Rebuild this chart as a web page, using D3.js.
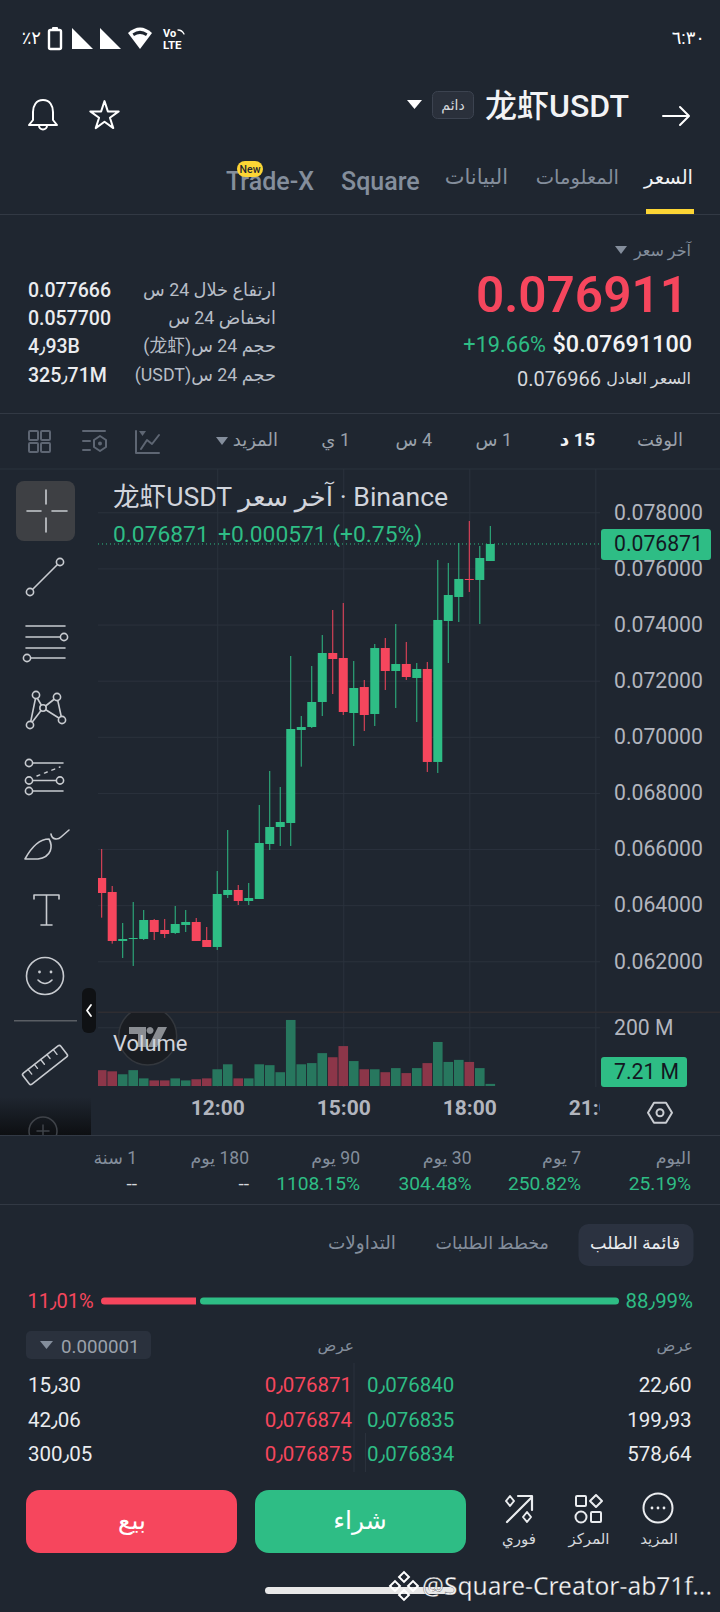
<!DOCTYPE html>
<html>
<head>
<meta charset="utf-8">
<script src="https://cdnjs.cloudflare.com/ajax/libs/d3/7.8.5/d3.min.js"></script>
<style>
	html, body { margin: 0; padding: 0; background: #1f2630; }
	svg { display: block; }
	text { font-family: Roboto, "Noto Sans CJK SC", "DejaVu Sans", sans-serif; }
</style>
</head>
<body>
<svg id="screen" width="720" height="1612"></svg>
<script>
// candles, 15 min each, oldest first
const startTime = new Date(2024, 0, 1, 9, 15)
const opens = [0.064969, 0.064470, 0.062724, 0.062795, 0.062795, 0.063472, 0.063116, 0.063009, 0.063294, 0.063401, 0.062759, 0.062510, 0.064363, 0.064541, 0.064149, 0.064220, 0.066180, 0.066786, 0.066928, 0.070242, 0.070349, 0.071240, 0.072986, 0.072808, 0.070848, 0.071774, 0.070812, 0.073164, 0.072345, 0.072595, 0.072096, 0.072417, 0.069103, 0.074127, 0.074982, 0.075624, 0.075588, 0.076265]
const highs = [0.066002, 0.064683, 0.063365, 0.064113, 0.063828, 0.063508, 0.063508, 0.063971, 0.063828, 0.063543, 0.063222, 0.065218, 0.066679, 0.064719, 0.064790, 0.067570, 0.068781, 0.068211, 0.072879, 0.070741, 0.072523, 0.073627, 0.074518, 0.074768, 0.072701, 0.072024, 0.073307, 0.073520, 0.074019, 0.073379, 0.072630, 0.072666, 0.076301, 0.076194, 0.076906, 0.077690, 0.076800, 0.077512]
const lows = [0.063555, 0.062629, 0.062118, 0.061833, 0.062759, 0.062759, 0.062830, 0.062973, 0.063044, 0.062724, 0.062510, 0.062403, 0.064256, 0.064006, 0.064006, 0.064220, 0.065966, 0.066109, 0.066109, 0.068936, 0.070313, 0.070741, 0.071525, 0.070777, 0.069672, 0.070207, 0.070385, 0.071668, 0.071026, 0.072025, 0.070528, 0.068746, 0.068711, 0.072630, 0.074091, 0.075160, 0.074020, 0.076265]
const closes = [0.064434, 0.062724, 0.062795, 0.062830, 0.063472, 0.063044, 0.062973, 0.063329, 0.063401, 0.062724, 0.062510, 0.064398, 0.064541, 0.064149, 0.064256, 0.066216, 0.066786, 0.066964, 0.070278, 0.070349, 0.071240, 0.072986, 0.072772, 0.070884, 0.071739, 0.070777, 0.073164, 0.072345, 0.072594, 0.072131, 0.072417, 0.069103, 0.074163, 0.075053, 0.075624, 0.075588, 0.076372, 0.076871]
// millions
const volumes = [54, 50, 40, 54, 26, 19, 19, 26, 19, 23, 26, 57, 74, 26, 26, 74, 71, 47, 225, 74, 78, 112, 98, 136, 85, 57, 57, 47, 61, 44, 61, 78, 150, 82, 89, 82, 61, 7.21]

const priceTicks = [0.062, 0.064, 0.066, 0.068, 0.070, 0.072, 0.074, 0.076, 0.078]
const timeTicks = [new Date(2024, 0, 1, 12), new Date(2024, 0, 1, 15), new Date(2024, 0, 1, 18), new Date(2024, 0, 1, 21)]
const volumeTicks = [200]
const lastPrice = 0.076871

const topTabs = ['السعر', 'المعلومات', 'البيانات', 'Square', 'Trade-X']
const statLabels = ['ارتفاع خلال 24 س', 'انخفاض 24 س', 'حجم 24 س(龙虾)', 'حجم 24 س(USDT)']
const statValues = ['0.077666', '0.057700', '4٫93B', '325٫71M']
const intervals = ['الوقت', '15 د', '1 س', '4 س', '1 ي', 'المزيد']
const periodLabels = ['اليوم', '7 يوم', '30 يوم', '90 يوم', '180 يوم', '1 سنة']
const periodValues = ['25.19%', '250.82%', '304.48%', '1108.15%', '--', '--']
const bookTabs = ['قائمة الطلب', 'مخطط الطلبات', 'التداولات']
const bidQty = ['22٫60', '199٫93', '578٫64']
const bidPrice = ['0٫076840', '0٫076835', '0٫076834']
const askPrice = ['0٫076871', '0٫076874', '0٫076875']
const askQty = ['15٫30', '42٫06', '300٫05']
const bottomLabels = ['المزيد', 'المركز', 'فوري']

const bg = '#1f2630'
const green = '#2ebd85'
const red = '#f6465d'
const volGreen = '#27775e'
const volRed = '#8c3649'
const gridCol = '#2b323d'
const lineCol = '#323944'
const greyText = '#848e9c'
const iconCol = '#5e6673'

const svg = d3.select('#screen')
svg.append('rect').attr('width', 720).attr('height', 1612).attr('fill', bg)

function txt(x, y, str, size, fill, opts) {
	const o = opts || {}
	const t = (o.parent || svg).append('text')
		.attr('x', x)
		.attr('y', y)
		.attr('dy', '.35em')
		.attr('font-size', size)
		.attr('fill', fill)
		.attr('font-weight', o.weight || 400)
		.attr('text-anchor', o.anchor || 'start')
		.text(str)
	if (o.rtl) t.attr('direction', 'rtl').style('unicode-bidi', 'embed')
	if (o.family) t.style('font-family', o.family)
	if (o.len) t.attr('textLength', o.len).attr('lengthAdjust', 'spacingAndGlyphs')
	return t
}

function stroke(d, col, w, parent) {
	return (parent || svg).append('path').attr('d', d).attr('fill', 'none')
		.attr('stroke', col).attr('stroke-width', w || 2)
		.attr('stroke-linecap', 'round').attr('stroke-linejoin', 'round')
}

function fill(d, col) {
	return svg.append('path').attr('d', d).attr('fill', col)
}

function box(x, y, w, h, r, col) {
	return svg.append('rect').attr('x', x).attr('y', y).attr('width', w).attr('height', h).attr('rx', r).attr('fill', col)
}

function hline(y, col) {
	svg.append('line').attr('x1', 0).attr('x2', 720).attr('y1', y).attr('y2', y).attr('stroke', col).attr('stroke-width', 1)
}

function drawStatusBar() {
	txt(705, 38, '٦:٣٠', 18, '#fff', {anchor: 'end'})
	txt(41, 38, '٢٪', 18, '#fff', {rtl: true})
	box(49, 30, 12, 19, 1.5, 'none').attr('stroke', '#fff').attr('stroke-width', 2.4)
	box(52, 27, 6, 3, 1, '#fff')
	fill('M72 49H93L72 28Z', '#fff')
	fill('M100 49H121L100 28Z', '#fff')
	fill('M128 33Q140 22 152 33L140 49Z', '#fff')
	fill('M132.5 33.5Q140 28 147.5 33.5L146 36Q140 32 134 36Z', bg)
	txt(163, 33, 'Vo', 11, '#fff', {weight: 700})
	txt(163, 45, 'LTE', 11.5, '#fff', {weight: 700})
	stroke('M178 30Q182 30 184 34', '#fff', 1.3)
}

function drawHeader() {
	stroke('M663 116H688M680 107L689 116L680 125', '#fff', 2)
	txt(629, 106, '龙虾USDT', 32, '#f2f3f5', {anchor: 'end', weight: 500})
	box(432.5, 91.5, 41, 27, 5, '#2a303b').attr('stroke', '#3c4350')
	txt(453, 105, 'دائم', 14, '#d5d8dc', {anchor: 'middle', rtl: true})
	fill('M407 100H422L414.5 109Z', '#fff')
	stroke('M43 100c-7 0-10 6-10 12v8l-4 5h28l-4-5v-8c0-6-3-12-10-12zM39 125.500a4 4 0 0 0 8 0', '#fff', 2)
	svg.append('path').attr('d', d3.symbol().type(d3.symbolStar).size(250)())
		.attr('transform', 'translate(104.5,116)')
		.attr('fill', 'none').attr('stroke', '#fff').attr('stroke-width', 2).attr('stroke-linejoin', 'round')

	const tabRight = [693, 619, 508]
	const tabSize = [19.5, 19.5, 21]
	tabRight.forEach((x, i) => txt(x, 177, topTabs[i], tabSize[i], i === 0 ? '#f2f3f5' : '#848e9c', {rtl: true}))
	txt(341, 181, topTabs[3], 25, '#848e9c', {weight: 500})
	txt(226, 181, topTabs[4], 25, '#848e9c', {weight: 500})
	box(237, 161, 26, 16, 8, '#fcd535')
	txt(250, 169.500, 'New', 10.5, '#1f2630', {anchor: 'middle', weight: 500})
	box(646, 209, 48, 5, 0, '#fcd535')
	hline(214.5, lineCol)
}

function drawSummary() {
	txt(691, 250, 'آخر سعر', 16, greyText, {rtl: true})
	fill('M615 246H627L621 254Z', greyText)
	txt(688, 295, '0.076911', 49.5, red, {anchor: 'end', weight: 600})
	txt(692, 344, '$0.07691100', 23.4, '#f2f3f5', {anchor: 'end', weight: 500})
	txt(546, 344, '+19.66%', 21.7, green, {anchor: 'end'})
	txt(691, 378, 'السعر العادل', 16, '#d5d8dc', {rtl: true})
	txt(601, 379, '0.076966', 20, '#d5d8dc', {anchor: 'end'})
	const rows = [290, 318, 346, 375]
	statLabels.forEach((s, i) => {
		txt(276, rows[i], s, 17.8, '#b7bdc6', {rtl: true})
		txt(28, rows[i], statValues[i], 19.5, '#eaecef', {weight: 500})
	})
	hline(413.5, lineCol)
}

function drawIntervalBar() {
	const right = [683, 595, 512, 432, 350, 278]
	intervals.forEach((s, i) => {
		txt(right[i], 440, s, i === 1 ? 18.5 : 18, i === 1 ? '#f2f3f5' : '#9aa1ab', {rtl: true, weight: i === 1 ? 700 : 400})
	})
	fill('M216 437H228L222 445Z', greyText)
	stroke('M136 431V453H159M141 449L147 440L152 444L159 435', iconCol, 2)
	fill('M139 431H146L142.500 436Z', iconCol)
	stroke('M83 431H105M83 441H90M83 450H90', iconCol, 2)
	stroke('M100 436L106 440V447L100 451L94 447V440Z', iconCol, 2)
	svg.append('circle').attr('cx', 100).attr('cy', 443.500).attr('r', 2).attr('fill', iconCol)
	;[[29, 431], [41, 431], [29, 443], [41, 443]].forEach(p => {
		box(p[0], p[1], 9, 9, 1, 'none').attr('stroke', iconCol).attr('stroke-width', 2)
	})
	hline(469, gridCol)
}

function drawChart() {
	const clipId = 'plot-clip'
	const candleTime = i => d3.timeMinute.offset(startTime, 15 * i)
	const n = closes.length

	const x = d3.scaleTime()
		.domain([startTime, candleTime(n - 1)])
		.range([101.7, 490.3])
	const y = d3.scaleLinear().domain([0.062, 0.078]).range([961.3, 512.3])
	const yVol = d3.scaleLinear().domain([0, 200]).range([1086, 1027.3])

	svg.append('clipPath').attr('id', clipId).append('rect')
		.attr('x', 98).attr('y', 469).attr('width', 502).attr('height', 620)

	// grids
	const gridX = svg.append('g').attr('transform', 'translate(0,1087)')
		.call(d3.axisBottom(x).tickValues(timeTicks).tickSize(-618).tickFormat(''))
	gridX.select('.domain').remove()
	gridX.selectAll('line').attr('stroke', gridCol)

	const gridY = svg.append('g').attr('transform', 'translate(600,0)')
		.call(d3.axisLeft(y).tickValues(priceTicks).tickSize(502).tickFormat(''))
	gridY.select('.domain').remove()
	gridY.selectAll('line').attr('stroke', gridCol)

	const gridV = svg.append('g').attr('transform', 'translate(600,0)')
		.call(d3.axisLeft(yVol).tickValues(volumeTicks).tickSize(502).tickFormat(''))
	gridV.select('.domain').remove()
	gridV.selectAll('line').attr('stroke', gridCol)

	svg.append('line').attr('x1', 98).attr('x2', 720).attr('y1', 1012.3).attr('y2', 1012.3)
		.attr('stroke', '#2f2d31').attr('stroke-width', 1.5)

	drawLogo()

	const plot = svg.append('g').attr('clip-path', 'url(#' + clipId + ')')
	const idx = d3.range(n)

	// volume pane
	plot.selectAll('rect.vol').data(idx).enter().append('rect')
		.attr('class', 'vol')
		.attr('x', i => x(candleTime(i)) - 4.8)
		.attr('width', 9.6)
		.attr('y', i => yVol(volumes[i]))
		.attr('height', i => yVol(0) - yVol(volumes[i]))
		.attr('fill', i => closes[i] >= opens[i] ? volGreen : volRed)

	// last price line
	plot.append('line').attr('x1', 98).attr('x2', 600)
		.attr('y1', y(lastPrice)).attr('y2', y(lastPrice))
		.attr('stroke', green).attr('stroke-dasharray', '1 3')

	plot.selectAll('line.wick').data(idx).enter().append('line')
		.attr('class', 'wick')
		.attr('x1', i => x(candleTime(i)))
		.attr('x2', i => x(candleTime(i)))
		.attr('y1', i => y(highs[i]))
		.attr('y2', i => y(lows[i]))
		.attr('stroke', i => closes[i] >= opens[i] ? green : red)
		.attr('stroke-width', 1)

	plot.selectAll('rect.body').data(idx).enter().append('rect')
		.attr('class', 'body')
		.attr('x', i => x(candleTime(i)) - 4.5)
		.attr('width', 9)
		.attr('y', i => y(Math.max(opens[i], closes[i])))
		.attr('height', i => Math.max(1, Math.abs(y(opens[i]) - y(closes[i]))))
		.attr('fill', i => closes[i] >= opens[i] ? green : red)

	// axes
	const axisPrice = svg.append('g').attr('transform', 'translate(600,0)')
		.call(d3.axisRight(y).tickValues(priceTicks).tickSize(0).tickPadding(14).tickFormat(d3.format('.6f')))
	axisPrice.select('.domain').remove()
	axisPrice.selectAll('text').attr('font-size', 21.2).attr('fill', '#b2b5be').style('font-family', 'Roboto')

	const axisVol = svg.append('g').attr('transform', 'translate(600,0)')
		.call(d3.axisRight(yVol).tickValues(volumeTicks).tickSize(0).tickPadding(14).tickFormat(d => d + ' M'))
	axisVol.select('.domain').remove()
	axisVol.selectAll('text').attr('font-size', 21.2).attr('fill', '#b2b5be').style('font-family', 'Roboto')

	const axisTime = svg.append('g').attr('transform', 'translate(0,1100)')
	axisTime.call(d3.axisBottom(x).tickValues(timeTicks).tickSize(0).tickPadding(0).tickFormat(d3.timeFormat('%H:%M')))
	axisTime.select('.domain').remove()
	axisTime.selectAll('text').attr('font-size', 21).attr('font-weight', 700).attr('fill', '#b2b5be')
		.style('font-family', 'Roboto')
	svg.append('rect').attr('x', 600).attr('y', 1096).attr('width', 30).attr('height', 34).attr('fill', bg)

	// price and volume tags
	box(601, 529, 110, 31, 3, green)
	txt(614, 544, d3.format('.6f')(lastPrice), 21.2, '#131722', {family: 'Roboto'})
	box(601, 1057, 86, 30, 3, green)
	txt(614, 1072, volumes[n - 1] + ' M', 21.2, '#131722', {family: 'Roboto'})
	stroke('M648 1112.700L654 1102.700H666L672 1112.700L666 1122.700H654Z', '#c9ccd1', 2)
	svg.append('circle').attr('cx', 660).attr('cy', 1112.700).attr('r', 3.500).attr('fill', 'none').attr('stroke', '#c9ccd1').attr('stroke-width', 2)

	// legend
	txt(113, 497, '龙虾USDT آخر سعر · Binance', 26.6, '#d1d4dc')
	txt(113, 534, '0.076871', 22.8, green)
	txt(218, 534, '+0.000571 (+0.75%)', 22.8, green)
	txt(113, 1043, 'Volume', 22, '#d1d4dc')

	hline(1135.5, lineCol)
}

function drawLogo() {
	svg.append('clipPath').attr('id', 'logo-clip').append('rect')
		.attr('x', 100).attr('y', 1013).attr('width', 100).attr('height', 70)
	const g = svg.append('g').attr('clip-path', 'url(#logo-clip)')
	g.append('circle').attr('cx', 147.7).attr('cy', 1036).attr('r', 29)
		.attr('fill', '#1a1d22').attr('stroke', '#33373d').attr('stroke-width', 1.5)
	g.append('path').attr('d', 'M129 1027H146V1047H138V1034H129ZM150 1027a3.500 3.500 0 1 0 .1 0ZM158 1027H167L157 1047H148Z')
		.attr('fill', '#8a8d92')
}

function drawDrawingTools() {
	const c = '#c8cbd0'
	const dot = (x, y, r) => svg.append('circle').attr('cx', x).attr('cy', y).attr('r', r || 3.6)
		.attr('fill', bg).attr('stroke', c).attr('stroke-width', 1.6)

	box(16, 481, 59, 60, 8, '#3e4044')
	stroke('M46 490V504M46 518V532M27 511H41M52 511H67', c, 1.6)

	stroke('M30 592L60 562', c, 1.6)
	dot(30, 592); dot(60, 562)

	stroke('M26 626H65M26 637H64M26 648H65M27 658H65', c, 1.6)
	dot(64, 637); dot(27, 658)

	stroke('M36 696L30 725L43 708L36 696M43 708L57 697L62 720L43 708', c, 1.6)
	dot(36, 695); dot(57, 697); dot(43, 708, 3.2); dot(30, 725); dot(62, 720)

	stroke('M29 763H63M29 780.500H60M29 791H63', c, 1.6)
	stroke('M37 776L60 767', c, 1.4).attr('stroke-dasharray', '3 5')
	dot(29, 763); dot(29, 780.500); dot(60, 780.500); dot(29, 791)

	stroke('M25 859C31 848 38 839 49 839C53 846 52 857 38 859Z', c, 1.6)
	stroke('M51 834C52 840 58 840 61 837L69 830', c, 1.6)

	stroke('M34 899V895H59V899M46.500 895V925M41 925H52', c, 1.6)

	svg.append('circle').attr('cx', 45).attr('cy', 976).attr('r', 18.5).attr('fill', 'none').attr('stroke', c).attr('stroke-width', 1.6)
	svg.append('circle').attr('cx', 39.500).attr('cy', 972).attr('r', 1.4).attr('fill', c)
	svg.append('circle').attr('cx', 51).attr('cy', 972).attr('r', 1.4).attr('fill', c)
	stroke('M38 980Q45 987 52 980', c, 1.6)

	box(14, 1020, 63, 1.500, 0, '#5a5e64')
	box(82, 988, 14, 45, 6, '#0f1114')
	stroke('M91 1005L87 1010.500L91 1016', '#fff', 1.8)

	const ruler = svg.append('g').attr('transform', 'translate(45,1065) rotate(-38)')
	ruler.append('rect').attr('x', -24).attr('y', -7).attr('width', 48).attr('height', 14).attr('rx', 2)
		.attr('fill', 'none').attr('stroke', c).attr('stroke-width', 1.6)
	stroke('M-16 -7V-1M-8 -7V-2M0 -7V-1M8 -7V-2M16 -7V-1', c, 1.4, ruler)

	// ad corner under the tools
	const grad = svg.append('linearGradient').attr('id', 'corner').attr('x1', 0).attr('x2', 0).attr('y1', 0).attr('y2', 1)
	grad.append('stop').attr('offset', 0).attr('stop-color', bg)
	grad.append('stop').attr('offset', 1).attr('stop-color', '#0d0f12')
	box(0, 1097, 91, 38, 0, 'url(#corner)')
	svg.append('clipPath').attr('id', 'plus-clip').append('rect').attr('x', 0).attr('y', 1097).attr('width', 91).attr('height', 38)
	const plus = svg.append('g').attr('clip-path', 'url(#plus-clip)')
	plus.append('circle').attr('cx', 43).attr('cy', 1131).attr('r', 14).attr('fill', 'none').attr('stroke', '#3f4349').attr('stroke-width', 1.5)
	stroke('M43 1125V1137M37 1131H49', '#3f4349', 1.5, plus)
}

function drawPeriods() {
	const right = [691, 581, 471.5, 360, 249, 137]
	periodLabels.forEach((s, i) => {
		txt(right[i], 1158, s, 17.5, greyText, {rtl: true})
		txt(right[i], 1183, periodValues[i], 19.2, periodValues[i] === '--' ? '#d5d8dc' : green, {anchor: 'end'})
	})
	hline(1204.5, lineCol)
}

function drawOrderBook() {
	box(578.5, 1224, 115, 42, 10, '#2b3240')
	const right = [680, 549, 396]
	const sizes = [17.5, 17.5, 18.5]
	bookTabs.forEach((s, i) => txt(right[i], 1243, s, sizes[i], i === 0 ? '#eaecef' : greyText, {rtl: true}))

	box(101, 1297.5, 99, 7, 3.5, red)
	box(196, 1297, 4, 8, 0, bg)
	box(200, 1297.5, 419, 7, 3.5, green)
	txt(27.5, 1301, '11٫01%', 20, red)
	txt(693, 1301, '88٫99%', 20.4, green, {anchor: 'end'})

	box(26, 1331, 125, 28, 5, '#2a313d')
	fill('M40 1341H53L46.500 1349Z', greyText)
	txt(61, 1346, '0.000001', 18.7, '#9aa1ab')
	txt(354, 1346, 'عرض', 15.5, greyText, {rtl: true})
	txt(693, 1346, 'عرض', 15.5, greyText, {rtl: true})

	svg.append('line').attr('x1', 354).attr('x2', 354).attr('y1', 1363).attr('y2', 1472).attr('stroke', '#2a313c')
	svg.append('line').attr('x1', 365.5).attr('x2', 365.5).attr('y1', 1433).attr('y2', 1472).attr('stroke', '#2a313c')

	const rows = [1384.5, 1419.5, 1454]
	rows.forEach((y, i) => {
		txt(28, y, askQty[i], 20.5, '#eaecef')
		txt(352, y, askPrice[i], 20.5, red, {anchor: 'end'})
		txt(367, y, bidPrice[i], 20.5, green)
		txt(691.5, y, bidQty[i], 20.5, '#eaecef', {anchor: 'end'})
	})
}

function drawBottomBar() {
	box(26, 1490, 211, 63, 14, red)
	box(255, 1490, 211, 63, 14, green)
	txt(132, 1520, 'بيع', 25, '#fff', {anchor: 'middle', rtl: true})
	txt(360, 1520, 'شراء', 25, '#fff', {anchor: 'middle', rtl: true})

	const centers = [659, 589, 519]
	bottomLabels.forEach((s, i) => txt(centers[i], 1539, s, 15, '#d5d8dc', {anchor: 'middle', rtl: true}))

	const w = '#eaecef'
	svg.append('circle').attr('cx', 658).attr('cy', 1508).attr('r', 14.5).attr('fill', 'none').attr('stroke', w).attr('stroke-width', 2)
	;[652, 658, 664].forEach(x => svg.append('circle').attr('cx', x).attr('cy', 1508).attr('r', 1.4).attr('fill', w))

	box(576, 1496, 10, 10, 1, 'none').attr('stroke', w).attr('stroke-width', 2)
	stroke('M596 1495L602 1501L596 1507L590 1501Z', w, 2)
	svg.append('circle').attr('cx', 581).attr('cy', 1517).attr('r', 5.5).attr('fill', 'none').attr('stroke', w).attr('stroke-width', 2)
	box(591, 1512, 10, 10, 1, 'none').attr('stroke', w).attr('stroke-width', 2)

	stroke('M507 1522L532 1497M518 1496H532V1510', w, 2.2)
	stroke('M510 1496L514 1501L510 1506L506 1501Z', w, 2)
	stroke('M527 1512L531 1517L527 1522L523 1517Z', w, 2)

	box(265, 1587, 190, 7, 3.5, '#e8e8e8')

	// watermark
	const logo = svg.append('g').attr('fill', 'none').attr('stroke', '#fff').attr('stroke-width', 2)
	;[[404, 1577], [395, 1586], [413, 1586], [404, 1595]].forEach(p => {
		logo.append('rect').attr('x', p[0] - 3.5).attr('y', p[1] - 3.5).attr('width', 7).attr('height', 7)
			.attr('transform', 'rotate(45 ' + p[0] + ' ' + p[1] + ')')
	})
	txt(422, 1586, '@Square-Creator-ab71f...', 25, '#f5f5f5', {len: 290}).style('font-family', '"Noto Sans", Roboto')
		.attr('stroke', '#1f2630').attr('stroke-width', 0.3)
}

drawStatusBar()
drawHeader()
drawSummary()
drawIntervalBar()
drawChart()
drawDrawingTools()
drawPeriods()
drawOrderBook()
drawBottomBar()
</script>
</body>
</html>
